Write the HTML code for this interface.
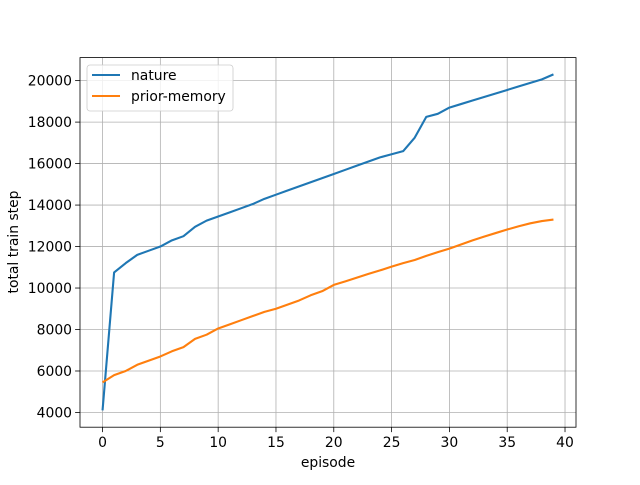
<!DOCTYPE html>
<html><head><meta charset="utf-8"><style>body{margin:0;background:#fff}svg{font-family:"DejaVu Sans","Liberation Sans",sans-serif}</style></head>
<body>
<svg id="chart" width="640" height="480"></svg>
<script>
const episodes=[...Array(40).keys()];
const natureValues=[4100,10750,11200,11600,11800,12000,12300,12500,12950,13250,13450,13650,13850,14050,14300,14500,14700,14900,15100,15300,15500,15700,15900,16100,16300,16450,16600,17250,18250,18400,18700,18870,19040,19210,19380,19550,19720,19890,20060,20300];
const priorValues=[5450,5800,6000,6300,6500,6700,6950,7150,7550,7750,8050,8250,8450,8650,8850,9000,9200,9400,9650,9850,10150,10320,10500,10680,10850,11030,11200,11350,11550,11730,11900,12100,12300,12480,12650,12820,12980,13120,13230,13300];
const xTicks=[0,5,10,15,20,25,30,35,40];
const yTicks=[4000,6000,8000,10000,12000,14000,16000,18000,20000];
const L=80,R=576,T=57.6,B=427.2,xmin=-1.95,xmax=40.95,ymin=3290,ymax=21110;
const X=v=>L+(v-xmin)/(xmax-xmin)*(R-L);
const Y=v=>B-(v-ymin)/(ymax-ymin)*(B-T);
const FS=13.9;
const svg=document.getElementById('chart');const NS='http://www.w3.org/2000/svg';
function mk(t,a,p){const e=document.createElementNS(NS,t);for(const k in a)e.setAttribute(k,a[k]);(p||svg).appendChild(e);return e;}
xTicks.forEach(v=>{const x=X(v);
const g=mk('line',{x1:x,x2:x,y1:T,y2:B,stroke:'#b0b0b0','stroke-width':0.8});


mk('line',{x1:x,x2:x,y1:B,y2:B+4.9,stroke:'#000','stroke-width':0.8});
const t=mk('text',{x:x,y:B+20,'text-anchor':'middle','font-size':FS});t.textContent=v;

});
yTicks.forEach(v=>{const y=Y(v);
const g=mk('line',{x1:L,x2:R,y1:y,y2:y,stroke:'#b0b0b0','stroke-width':0.8});


mk('line',{x1:L-4.9,x2:L,y1:y,y2:y,stroke:'#000','stroke-width':0.8});
const t=mk('text',{x:L-8,y:y+5,'text-anchor':'end','font-size':FS});t.textContent=v;

});
function line(vals,color,name){const p=mk('polyline',{points:episodes.map((e,i)=>X(e)+','+Y(vals[i])).join(' '),fill:'none',stroke:color,'stroke-width':2.1,'stroke-linejoin':'round'});

}
line(natureValues,'#1f77b4','nature-line');
line(priorValues,'#ff7f0e','prior-memory-line');
const fr=mk('rect',{x:L,y:T,width:R-L,height:B-T,fill:'none',stroke:'#000','stroke-width':0.8});


const xl=mk('text',{x:(L+R)/2,y:467,'text-anchor':'middle','font-size':FS});xl.textContent='episode';


const yl=mk('text',{x:0,y:0,'text-anchor':'middle','font-size':FS,transform:'translate(18,242) rotate(-90)'});yl.textContent='total train step';


const lg=mk('g',{});


mk('rect',{x:87,y:65,width:146,height:46,rx:3,fill:'#fff','fill-opacity':0.8,stroke:'#ccc','stroke-width':0.8},lg);
[['nature','#1f77b4',80],['prior-memory','#ff7f0e',101]].forEach(([n,c,y])=>{
mk('line',{x1:92,x2:120,y1:y-5,y2:y-5,stroke:c,'stroke-width':2.1},lg);
const t=mk('text',{x:131,y:y,'font-size':FS},lg);t.textContent=n;

});
</script>
</body></html>
